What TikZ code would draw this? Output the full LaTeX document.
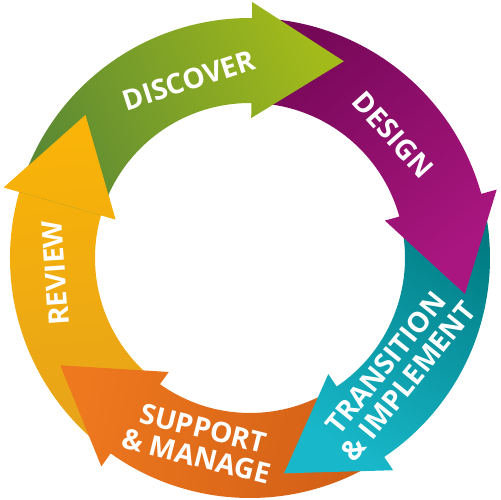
\documentclass[tikz,border=0pt]{standalone}
\usepackage{fontspec}
\setmainfont{Open Sans}
\usepackage{xcolor}
\usepackage{tikz}
\usetikzlibrary{shapes}

\definecolor{discovertail}{RGB}{92,138,52}
\definecolor{discoverhead}{RGB}{162,186,26}
\definecolor{designtail}{RGB}{118,8,88}
\definecolor{designhead}{RGB}{170,22,128}
\definecolor{transitiontail}{RGB}{0,122,128}
\definecolor{transitionhead}{RGB}{24,184,202}
\definecolor{supporttail}{RGB}{208,94,22}
\definecolor{supporthead}{RGB}{238,120,30}
\definecolor{reviewtail}{RGB}{230,163,25}
\definecolor{reviewhead}{RGB}{250,180,8}

\begin{document}
\begin{tikzpicture}[
		x = 0.02cm, y = 0.02cm, % one unit = one pixel of the sketch
		semithick % line style
	]
	
	\tikzstyle{phase}=[
	draw = none
	]
	
	\tikzstyle{phase text}=[
	text = white,
	font = \bfseries\fontsize{16}{16.5}\selectfont,
	align = center,
	inner sep = 0pt
	]
	
	\useasboundingbox (-250,-242) rectangle (250,258);
	
	% ring: inner radius 155, outer radius 240, heads 58 each side of 197.5
	% drawn backwards, so that each head lies over the next band
	\shade[phase, top color = reviewhead, bottom color = reviewtail, shading angle = 7]
		(-125.5:155) arc[start angle = -125.5, end angle = -196, radius = 155] -- (-196:140) -- (-221:218) -- (-196:256) -- (-196:240) arc[start angle = -196, end angle = -125.5, radius = 240] -- cycle;
	
	\shade[phase, top color = supporthead, bottom color = supporttail, shading angle = 77]
		(-56:155) arc[start angle = -56, end angle = -125.5, radius = 155] -- (-125.5:140) -- (-150.5:218) -- (-125.5:256) -- (-125.5:240) arc[start angle = -125.5, end angle = -56, radius = 240] -- cycle;
	
	\shade[phase, top color = transitionhead, bottom color = transitiontail, shading angle = 147]
		(15.5:155) arc[start angle = 15.5, end angle = -56, radius = 155] -- (-56:140) -- (-81:218) -- (-56:256) -- (-56:240) arc[start angle = -56, end angle = 15.5, radius = 240] -- cycle;
	
	\shade[phase, top color = designhead, bottom color = designtail, shading angle = -140]
		(89.5:155) arc[start angle = 89.5, end angle = 15.5, radius = 155] -- (15.5:140) -- (-9.5:218) -- (15.5:256) -- (15.5:240) arc[start angle = 15.5, end angle = 89.5, radius = 240] -- cycle;
	
	\shade[phase, top color = discoverhead, bottom color = discovertail, shading angle = -66]
		(164:155) arc[start angle = 164, end angle = 89.5, radius = 155] -- (89.5:140) -- (64.5:218) -- (89.5:256) -- (89.5:240) arc[start angle = 89.5, end angle = 164, radius = 240] -- cycle;
	
	% review head lies over the discover band
	\begin{scope}
		\clip (-196:140) -- (-221:218) -- (-196:256) -- cycle;
		\shade[phase, top color = reviewhead, bottom color = reviewtail, shading angle = 7]
			(-125.5:155) arc[start angle = -125.5, end angle = -196, radius = 155] -- (-196:140) -- (-221:218) -- (-196:256) -- (-196:240) arc[start angle = -196, end angle = -125.5, radius = 240] -- cycle;
	\end{scope}
	
	\node[phase text, rotate = 18] (discover) at (109:188) {DISCOVER};
	\node[phase text, rotate = -48] (design) at (40.7:189) {DESIGN};
	\node[phase text, rotate = 51] (transition) at (-37.8:186) {TRANSITION\\\& IMPLEMENT};
	\node[phase text, rotate = -14] (support) at (-105.2:191) {SUPPORT\\\& MANAGE};
	\node[phase text, rotate = 94] (review) at (184.4:195) {REVIEW};
\end{tikzpicture}
\end{document}
